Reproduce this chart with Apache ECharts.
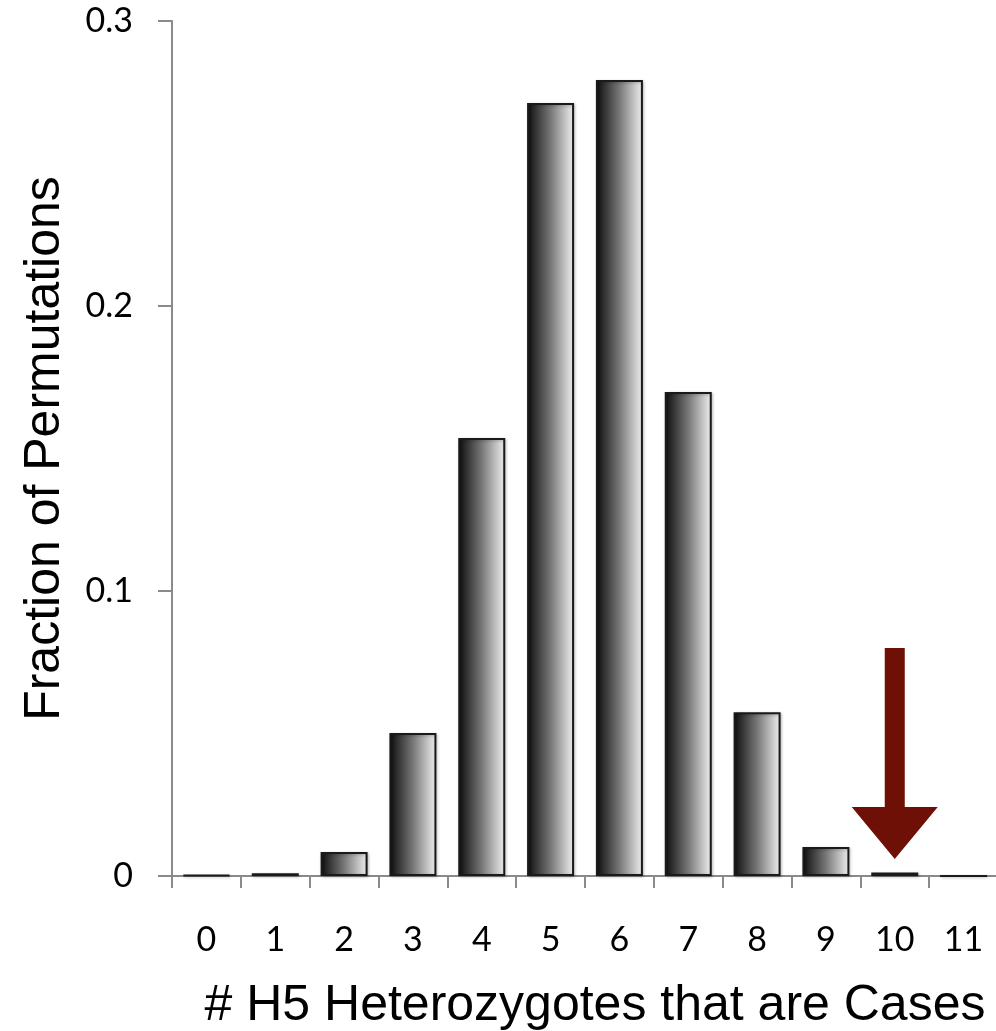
<!DOCTYPE html>
<html>
<head>
<meta charset="utf-8">
<style>
html,body{margin:0;padding:0;background:#fff;}
#chart{width:996px;height:1031px;}
</style>
<script src="https://cdn.jsdelivr.net/npm/echarts@6/dist/echarts.min.js"></script>
</head>
<body>
<div id="chart"></div>
<script>
// ---- data ----
const categories = ['0','1','2','3','4','5','6','7','8','9','10','11'];
const fractions = [0.0003, 0.001, 0.0084, 0.0502, 0.1537, 0.2712, 0.2793, 0.1698, 0.0575, 0.0102, 0.0012, 0];
const yTicks = ['0', '0.1', '0.2', '0.3'];
const xTitle = '# H5 Heterozygotes that are Cases';
const yTitle = 'Fraction of Permutations';
// arrow annotation: category index, start value, tip value
const arrowData = [[10, 0.08, 0.006]];

const chart = echarts.init(document.getElementById('chart'));
const labelFont = 'Lato, "Open Sans", sans-serif';
const titleFont = '"Liberation Sans", Arial, sans-serif';

chart.setOption({
  animation: false,
  grid: { left: 172, right: -2, top: 21, bottom: 155, containLabel: false, outerBoundsMode: 'none' },
  xAxis: {
    type: 'category',
    data: categories,
    boundaryGap: true,
    axisLine: { lineStyle: { color: '#8a8a8a', width: 2 } },
    axisTick: { show: true, length: 12, lineStyle: { color: '#8a8a8a', width: 2 } },
    axisLabel: { margin: 47, fontSize: 34, color: '#000', fontFamily: labelFont },
    name: xTitle,
    nameLocation: 'middle',
    nameGap: 105,
    nameTextStyle: { fontSize: 50, color: '#000', fontFamily: titleFont, padding: [0, 0, 0, 20] }
  },
  yAxis: {
    type: 'value',
    min: 0, max: 0.3, interval: 0.1,
    splitLine: { show: false },
    axisLine: { show: true, lineStyle: { color: '#8a8a8a', width: 2 } },
    axisTick: { show: true, length: 14, lineStyle: { color: '#8a8a8a', width: 2 } },
    axisLabel: {
      margin: 39, fontSize: 34, color: '#000', fontFamily: labelFont,
      formatter: function (v) { return yTicks[Math.round(v * 10)]; }
    },
    name: yTitle,
    nameLocation: 'middle',
    nameGap: 102,
    nameTextStyle: { fontSize: 50, color: '#000', fontFamily: titleFont }
  },
  series: [
    {
      type: 'bar',
      data: fractions,
      barWidth: 47,
      itemStyle: {
        color: new echarts.graphic.LinearGradient(0, 0, 1, 0, [
          { offset: 0, color: '#0c0c0c' },
          { offset: 0.5, color: '#777777' },
          { offset: 1, color: '#f2f2f2' }
        ]),
        borderColor: '#1a1a1a',
        borderWidth: 2,
        shadowColor: 'rgba(0,0,0,0.25)',
        shadowBlur: 3,
        shadowOffsetX: 1,
        shadowOffsetY: 1
      }
    },
    {
      type: 'custom',
      data: arrowData,
      z: 10,
      renderItem: function (params, api) {
        const top = api.coord([api.value(0), api.value(1)]);
        const tip = api.coord([api.value(0), api.value(2)]);
        const x = top[0];
        const shaftHalf = 10, headHalf = 43, headH = 52;
        const baseY = tip[1] - headH;
        return {
          type: 'polygon',
          shape: {
            points: [
              [x - shaftHalf, top[1]], [x + shaftHalf, top[1]],
              [x + shaftHalf, baseY], [x + headHalf, baseY],
              [x, tip[1]],
              [x - headHalf, baseY], [x - shaftHalf, baseY]
            ]
          },
          style: { fill: '#6e1005' }
        };
      }
    }
  ]
});
</script>
</body>
</html>
